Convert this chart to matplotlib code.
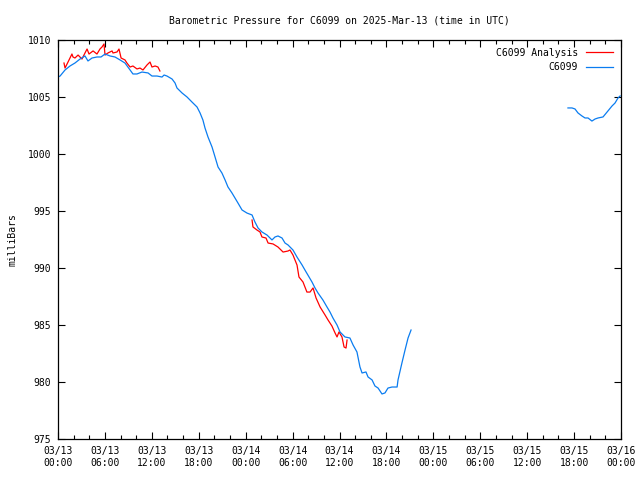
import numpy as np
import matplotlib
matplotlib.use("Agg")
from matplotlib import pyplot as plt
import matplotlib.dates as mdates

# hours after 2025-03-13 00:00 UTC, pressure in mbar
obs_hours_1 = [0.0, 0.26, 0.9, 1.53, 2.17, 2.81, 3.45, 3.84, 4.35, 4.99, 5.5, 6.01,
               6.65, 7.29, 7.93, 8.57, 9.21, 9.59, 10.1, 10.74, 11.51, 12.02, 12.66,
               13.3, 13.56, 13.94, 14.58, 14.96, 15.22, 15.86, 16.5, 17.14, 17.78,
               18.16, 18.54, 18.8, 19.18, 19.7, 20.08, 20.46, 20.97, 21.36, 21.74,
               22.25, 22.64, 23.02, 23.53, 24.17, 24.81, 25.19, 25.58, 26.09, 26.73,
               27.37, 27.75, 28.14, 28.65, 29.03, 29.42, 30.05, 30.57, 31.21, 31.59,
               32.48, 32.87, 33.25, 33.89, 34.4, 34.79, 35.17, 35.68, 36.06, 36.7,
               37.34, 37.73, 38.24, 38.62, 38.88, 39.39, 39.65, 40.16, 40.54, 40.93,
               41.44, 41.82, 42.2, 42.72, 43.36, 43.48, 43.99, 44.38, 44.76, 45.15]
obs_press_1 = [1006.75, 1006.84, 1007.37, 1007.72, 1007.98, 1008.33, 1008.6, 1008.16,
               1008.42, 1008.51, 1008.51, 1008.77, 1008.6, 1008.51, 1008.25, 1007.98,
               1007.37, 1007.02, 1007.02, 1007.19, 1007.11, 1006.84, 1006.84, 1006.75,
               1006.93, 1006.84, 1006.58, 1006.23, 1005.79, 1005.35, 1005.0, 1004.56,
               1004.12, 1003.6, 1002.98, 1002.28, 1001.49, 1000.61, 999.74, 998.86,
               998.33, 997.72, 997.11, 996.58, 996.14, 995.7, 995.09, 994.82, 994.65,
               994.04, 993.51, 993.16, 992.89, 992.46, 992.72, 992.81, 992.63, 992.19,
               992.02, 991.58, 990.96, 990.26, 989.82, 988.77, 988.25, 987.81, 987.19,
               986.58, 986.14, 985.61, 985.0, 984.39, 983.95, 983.86, 983.25, 982.63,
               981.32, 980.79, 980.88, 980.44, 980.18, 979.65, 979.47, 978.95, 979.04,
               979.47, 979.56, 979.56, 980.18, 981.67, 982.81, 983.86, 984.56]

obs_hours_2 = [65.22, 65.74, 66.12, 66.5, 67.01, 67.4, 67.78, 68.29, 68.68, 69.06,
               69.7, 70.21, 70.85, 71.24, 71.62, 71.88]
obs_press_2 = [1004.04, 1004.04, 1003.95, 1003.6, 1003.33, 1003.16, 1003.16, 1002.89,
               1003.07, 1003.16, 1003.25, 1003.68, 1004.21, 1004.47, 1004.91, 1005.09]

ana_hours_1 = [0.77, 0.9, 1.28, 1.79, 1.92, 2.17, 2.56, 3.07, 3.45, 3.71, 3.96, 4.48,
               4.99, 5.37, 5.63, 5.88, 6.01, 6.39, 6.91, 7.03, 7.55, 7.8, 8.06, 8.57,
               8.82, 9.21, 9.59, 10.1, 10.49, 10.87, 11.38, 11.77, 12.02, 12.41, 12.79,
               13.04]
ana_press_1 = [1007.98, 1007.54, 1008.07, 1008.77, 1008.51, 1008.42, 1008.68, 1008.33,
               1008.86, 1009.21, 1008.77, 1009.04, 1008.77, 1009.21, 1009.39, 1009.65,
               1008.68, 1008.86, 1009.04, 1008.86, 1008.95, 1009.21, 1008.42, 1008.25,
               1007.98, 1007.63, 1007.72, 1007.46, 1007.54, 1007.37, 1007.81, 1008.07,
               1007.63, 1007.72, 1007.63, 1007.28]

ana_hours_2 = [24.81, 24.94, 25.45, 25.83, 26.09, 26.6, 26.86, 27.5, 28.14, 28.78,
               29.42, 29.67, 30.05, 30.57, 30.82, 31.33, 31.84, 32.23, 32.61, 33.0,
               33.51, 34.15, 34.53, 35.04, 35.43, 35.68, 35.94, 36.32, 36.58, 36.83,
               36.96]
ana_press_2 = [994.21, 993.6, 993.33, 993.16, 992.72, 992.63, 992.19, 992.11, 991.84,
               991.4, 991.49, 991.58, 991.14, 990.26, 989.21, 988.77, 987.89, 987.89,
               988.25, 987.37, 986.58, 985.88, 985.44, 984.91, 984.3, 983.95, 984.39,
               983.95, 983.07, 982.98, 983.68]

start = np.datetime64('2025-03-13T00:00')


def to_time(hours):
    mins = np.round(np.array(hours) * 60).astype(int)
    return start + mins.astype('timedelta64[m]')


plt.rcParams['font.family'] = ['DejaVu Sans Mono']
plt.rcParams['font.size'] = 7

fig = plt.figure(figsize=(6.4, 4.8), dpi=100)
ax = fig.add_axes([58 / 640, 41 / 480, 563 / 640, 399 / 480])

red = '#ff0000'
blue = '#0a7cf0'
ax.plot(to_time(ana_hours_1), ana_press_1, color=red, lw=0.9, label='C6099 Analysis')
ax.plot(to_time(ana_hours_2), ana_press_2, color=red, lw=0.9)
ax.plot(to_time(obs_hours_1), obs_press_1, color=blue, lw=0.9, label='C6099')
ax.plot(to_time(obs_hours_2), obs_press_2, color=blue, lw=0.9)

ax.set_xlim(start, start + np.timedelta64(72, 'h'))
ax.set_ylim(975, 1010)
ax.set_yticks(np.arange(975, 1011, 5))
ax.xaxis.set_major_locator(mdates.HourLocator(byhour=range(0, 24, 6)))
ax.xaxis.set_minor_locator(mdates.HourLocator(byhour=range(0, 24, 2)))
ax.xaxis.set_major_formatter(mdates.DateFormatter('%m/%d\n%H:%M'))
ax.tick_params(which='both', direction='in', top=True, right=True, color='black')
ax.tick_params(which='major', length=5, width=0.8, pad=5)
ax.tick_params(which='minor', length=3, width=0.8)
for s in ax.spines.values():
    s.set_linewidth(0.9)

ax.set_ylabel('milliBars', labelpad=7)
ax.set_title('Barometric Pressure for C6099 on 2025-Mar-13 (time in UTC)',
             fontsize=7, pad=12)

leg = ax.legend(loc='upper right', frameon=False, markerfirst=False,
                handlelength=2.8, handletextpad=0.8, borderaxespad=0.3,
                borderpad=0.5, labelspacing=0.45, fontsize=7)
for t in leg.get_texts():
    t.set_ha('right')

fig.savefig('out.png', dpi=100)
